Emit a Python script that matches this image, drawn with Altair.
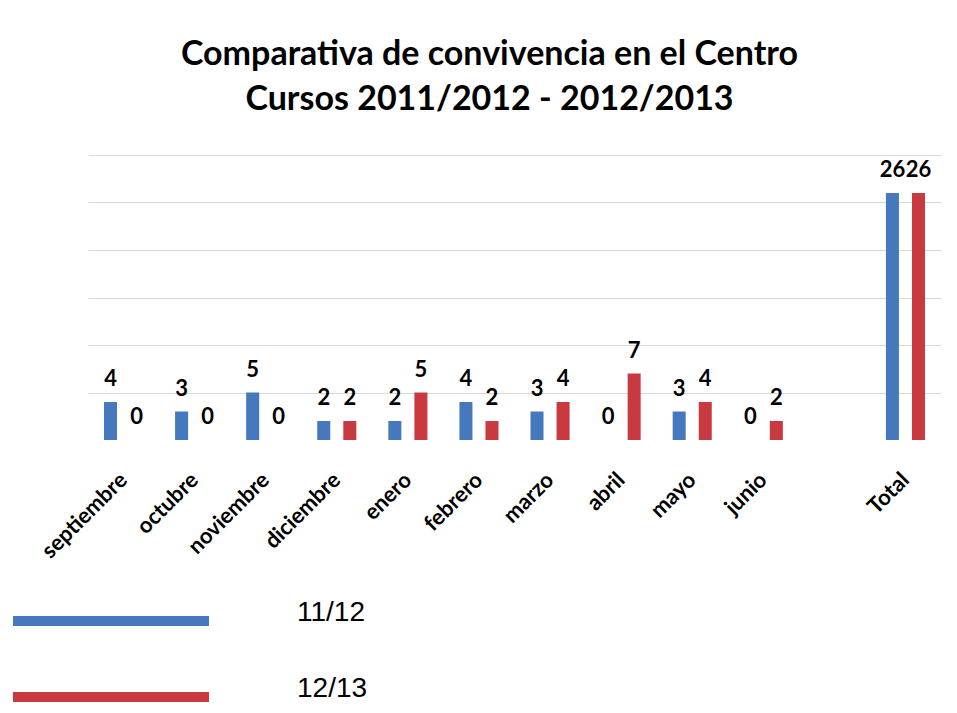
import altair as alt
import pandas as pd

months = ["septiembre", "octubre", "noviembre", "diciembre", "enero", "febrero",
          "marzo", "abril", "mayo", "junio", "Total"]
domain = months[:10] + [" "] + ["Total"]
s1112 = [4, 3, 5, 2, 2, 4, 3, 0, 3, 0, 26]
s1213 = [0, 0, 0, 2, 5, 2, 4, 7, 4, 2, 26]
series = ["11/12", "12/13"]
colors = ["#4578bd", "#c93a40"]

rows = []
for m, a, b in zip(months, s1112, s1213):
    rows.append({"mes": m, "serie": series[0], "valor": a})
    rows.append({"mes": m, "serie": series[1], "valor": b})
df = pd.DataFrame(rows)

x = alt.X("mes:N", sort=domain,
          scale=alt.Scale(domain=domain, paddingInner=0.45, paddingOuter=0.225),
          axis=alt.Axis(title=None, labelAngle=-45, labelAlign="right", labelBaseline="middle",
                        labelFont="Lato", labelFontWeight="bold", labelFontSize=22,
                        labelColor="black", labelPadding=36, ticks=False, domain=False,
                        grid=False, labelOverlap=False))
xo = alt.XOffset("serie:N", sort=series, scale=alt.Scale(paddingInner=0.5, paddingOuter=0))
y = alt.Y("valor:Q", scale=alt.Scale(domain=[0, 30], nice=False),
          axis=alt.Axis(title=None, labels=False, ticks=False, domain=False,
                        values=[5, 10, 15, 20, 25, 30], gridColor="#d9d9d9", gridWidth=1))
color = alt.Color("serie:N", sort=series,
                  scale=alt.Scale(domain=series, range=colors),
                  legend=alt.Legend(title=None, orient="none", legendX=9, legendY=452,
                                    direction="vertical", padding=0,
                                    symbolType="M-19.6,-1H19.6V1H-19.6Z", symbolSize=100,
                                    symbolStrokeWidth=0, symbolOpacity=1,
                                    labelFont="Liberation Sans", labelFontSize=28,
                                    labelBaseline="alphabetic",
                                    labelColor="black", labelOffset=172, rowPadding=48))

bars = alt.Chart(df).mark_bar().encode(x=x, xOffset=xo, y=y, color=color)
labels = alt.Chart(df).mark_text(font="Lato", fontWeight="bold", fontSize=22,
                                 color="black", baseline="alphabetic", dy=-16).encode(
    x=x, xOffset=xo, y=y, text="valor:Q")

chart = alt.layer(bars, labels).properties(
    width=853, height=285,
    title=alt.TitleParams(["Comparativa de convivencia en el Centro",
                           "Cursos 2011/2012 - 2012/2013"],
                          font="Lato", fontSize=34, fontWeight="bold", color="black",
                          lineHeight=45, anchor="middle", dx=-25, offset=38),
    view=alt.ViewBackground(strokeWidth=0, stroke="transparent"),
    autosize=alt.AutoSizeParams(type="none"),
    padding={"left": 80, "top": 147, "right": 8, "bottom": 265},
).configure_view(strokeWidth=0, strokeOpacity=0, stroke="transparent"
).configure_axisX(grid=False, domain=False
).configure(background="white")

chart.save("out.html", embed_options={"renderer": "svg", "actions": False})
